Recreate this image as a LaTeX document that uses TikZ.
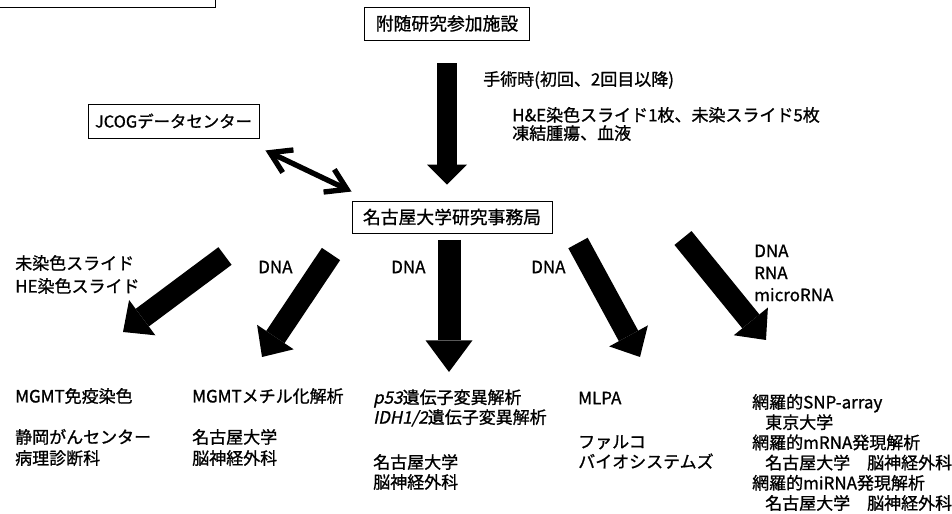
\documentclass[tikz,border=0pt]{standalone}
\usepackage{fontspec}
\setmainfont{Noto Sans CJK JP}[FakeBold=1, AutoFakeSlant=0.2]
\usetikzlibrary{arrows.meta}

\begin{document}
\begin{tikzpicture}[
    x=0.03cm, y=-0.03cm,                % 1 unit = 1 px of the sketch, y runs down
    box/.style={draw, line width=0.8pt, inner xsep=0pt,
      font=\fontsize{15.2}{18}\selectfont},
    lbl/.style={anchor=west, align=left, inner sep=0pt,
      font=\fontsize{14.5}{#1}\selectfont},
    lbl/.default=18pt,
    bigarr/.style n args={3}{line width=#1,
      -{Triangle[width=#2, length=#3, line width=0pt]}},   % shaft, head width, head length
    dbl/.style={line width=0.16cm,
      {Straight Barb[length=0.6cm, width=0.75cm]}-{Straight Barb[length=0.6cm, width=0.75cm]}},
  ]
    \useasboundingbox (0,0) rectangle (952,514);

    % header frame, cut by the page edge
    \draw[line width=0.8pt] (-10,-30) rectangle (215,7);

    % Boxes
    \node[box, minimum width=4.95cm, minimum height=0.99cm] (facility) at (447,23.5) {附随研究参加施設};
    \node[box, minimum width=5.13cm, minimum height=1.02cm,
      font=\fontsize{14}{18}\selectfont] (jcog) at (173.5,121) {JCOGデータセンター};
    \node[box, minimum width=6.0cm, minimum height=0.96cm] (nagoya) at (452,217) {名古屋大学研究事務局};

    % Facility -> office
    \draw[bigarr={0.6cm}{1.2cm}{0.6cm}]
      ([yshift=-0.69cm]facility.south) -- ([yshift=0.48cm]facility.south |- nagoya.north);
    \node[lbl] (surgery) at (483,80) {手術時(初回、2回目以降)};
    \node[lbl=15.5pt] (samples) at (512,124) {H\&E染色スライド1枚、未染スライド5枚\\凍結腫瘍、血液};

    % JCOG <-> office
    \draw[dbl] ([shift={(6,12)}]jcog.south east) -- ([shift={(0,-9)}]nagoya.north west);

    % Branch arrows (tail / tip)
    \coordinate (t1) at (225,256); \coordinate (h1) at (123,332);
    \coordinate (t2) at (331,254); \coordinate (h2) at (262,357);
    \coordinate (t3) at (449,240); \coordinate (h3) at (449,372);
    \coordinate (t4) at (578,243); \coordinate (h4) at (640,357);
    \coordinate (t5) at (683,238); \coordinate (h5) at (766,340);

    \draw[bigarr={0.66cm}{1.32cm}{0.72cm}] (t1) -- (h1);
    \draw[bigarr={0.66cm}{1.32cm}{0.72cm}] (t2) -- (h2);
    \draw[bigarr={0.69cm}{1.41cm}{0.95cm}] (t3) -- (h3);
    \draw[bigarr={0.66cm}{1.32cm}{0.72cm}] (t4) -- (h4);
    \draw[bigarr={0.66cm}{1.32cm}{0.72cm}] (t5) -- (h5);

    % Arrow labels
    \node[lbl=19.6pt] (slides) at (15,274.5) {未染色スライド\\HE染色スライド};
    \node[lbl] (dna1) at (258,267) {DNA};
    \node[lbl] (dna2) at (391,267) {DNA};
    \node[lbl] (dna3) at (531,267) {DNA};
    \node[lbl=18.8pt] (rna) at (754,273) {DNA\\RNA\\microRNA};

    % Column 1
    \node[lbl] (ihc) at (15,396) {MGMT免疫染色};
    \node[lbl] (shizuoka) at (15,447.5) {静岡がんセンター\\病理診断科};
    % Column 2
    \node[lbl] (methyl) at (192,396) {MGMTメチル化解析};
    \node[lbl] (nsurg1) at (192,447.5) {名古屋大学\\脳神経外科};
    % Column 3
    \node[lbl=17pt] (mut) at (373,408) {\textit{p53}遺伝子変異解析\\\textit{IDH1/2}遺伝子変異解析};
    \node[lbl=17pt] (nsurg2) at (373,472) {名古屋大学\\脳神経外科};
    % Column 4
    \node[lbl] (mlpa) at (578,398) {MLPA};
    \node[lbl=17pt] (falco) at (578,452) {ファルコ\\バイオシステムズ};
    % Column 5
    \node[lbl=17.25pt] (array) at (752,452.5) {網羅的SNP-array\\
      \hspace*{0.39cm}東京大学\\
      網羅的mRNA発現解析\\
      \hspace*{0.39cm}名古屋大学　脳神経外科\\
      網羅的miRNA発現解析\\
      \hspace*{0.39cm}名古屋大学　脳神経外科};
  \end{tikzpicture}
\end{document}
